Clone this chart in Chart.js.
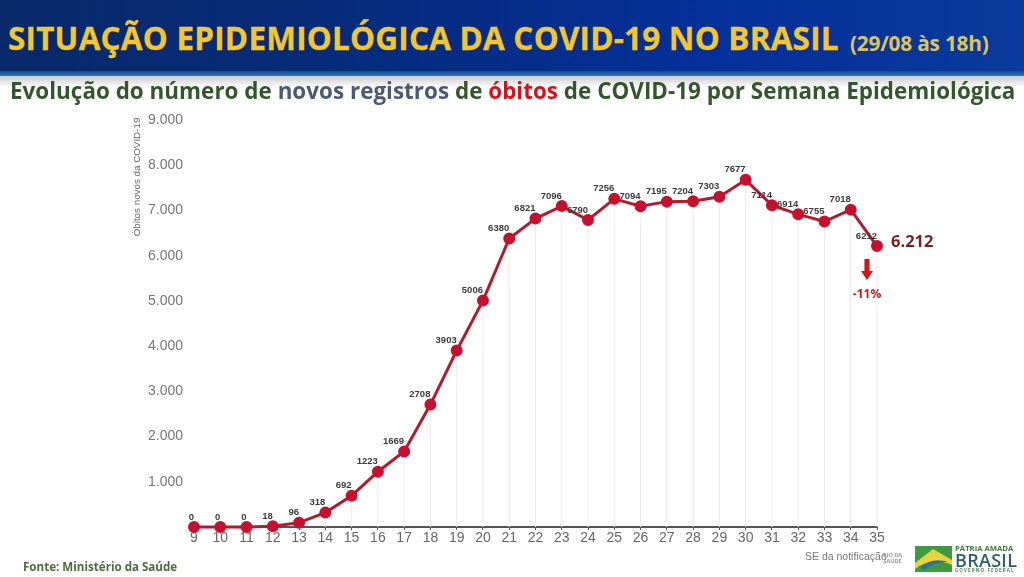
<!DOCTYPE html>
<html>
<head>
<meta charset="utf-8">
<title>Situação epidemiológica da COVID-19 no Brasil</title>
<script src="https://cdn.jsdelivr.net/npm/chart.js@4"></script>
<style>
html, body { margin: 0; padding: 0; background: #fff; }
#page { position: relative; width: 1024px; height: 577px; overflow: hidden; font-family: "Open Sans", sans-serif; }
#myChart { position: absolute; left: 0; top: 0; }
#header { position: absolute; left: 0; top: 0; width: 1024px; height: 72px; background: linear-gradient(90deg, #08296a 0%, #062b78 30%, #04309a 70%, #0a3a9c 100%); }
#strip { position: absolute; left: 0; top: 71px; width: 1024px; height: 5px; background: linear-gradient(180deg, #0f4a96 0%, #3a7ab0 100%); }
#shade { position: absolute; left: 0; top: 76px; width: 1024px; height: 10px; background: linear-gradient(180deg, #c9cbce 0%, #f8f8f8 100%); }
.txt { position: absolute; white-space: nowrap; font-weight: 700; }
#title { left: 8px; top: 19px; font-size: 31.5px; line-height: 38px; color: #f3c62c; letter-spacing: 0.2px; -webkit-text-stroke: 0.3px #f3c62c; }
#date { left: 850px; top: 31px; font-size: 20.8px; line-height: 24px; color: #dcc35e; letter-spacing: -0.2px; }
#subtitle { left: 10px; top: 75px; font-size: 22.4px; line-height: 32px; color: #33562c; letter-spacing: 0.03px; }
#subtitle .n { color: #4a5a72; }
#subtitle .o { color: #d3141c; }
#fonte { left: 23px; top: 559px; font-size: 11.6px; line-height: 16px; color: #4d6b3d; }
#se { left: 805px; top: 549px; font-size: 10.5px; line-height: 14px; color: #777; font-weight: 400; font-family: "Liberation Sans", sans-serif; }
#saude { left: 883px; top: 552px; font-size: 5.5px; line-height: 6px; color: #999; text-align: center; }
#logo { position: absolute; left: 915px; top: 546px; }
#patria { left: 955px; top: 544px; font-size: 7.7px; line-height: 9px; color: #3f7d3a; }
#brasil { left: 955px; top: 549px; font-size: 18px; line-height: 22px; color: #2d5f6b; font-weight: 600; letter-spacing: 0.3px; }
#governo { left: 955px; top: 568px; font-size: 4.5px; line-height: 5px; color: #4d8a4a; letter-spacing: 1.1px; }
#arrow { position: absolute; left: 861px; top: 259px; }
</style>
</head>
<body>
<div id="page">
  <canvas id="myChart" width="1024" height="577"></canvas>
  <div id="header"></div>
  <div id="strip"></div>
  <div id="shade"></div>
  <div class="txt" id="title">SITUAÇÃO EPIDEMIOLÓGICA DA COVID-19 NO BRASIL</div>
  <div class="txt" id="date">(29/08 às 18h)</div>
  <div class="txt" id="subtitle">Evolução do número de <span class="n">novos registros</span> de <span class="o">óbitos</span> de COVID-19 por Semana Epidemiológica</div>
  <div class="txt" id="fonte">Fonte: Ministério da Saúde</div>
  <div class="txt" id="se">SE da notificação</div>
  <div class="txt" id="saude">RIO DA<br>SAÚDE</div>
  <svg id="logo" width="37" height="26" viewBox="0 0 37 26">
    <rect width="37" height="26" fill="#3f9a3f"/>
    <path d="M0 17 L18 3 L37 14 L37 19 Q18 10 0 23 Z" fill="#e8d33c"/>
    <path d="M5 21 Q18 11 33 16 Q20 15 9 24 Z" fill="#2b6fa8"/>
  </svg>
  <div class="txt" id="patria">PÁTRIA AMADA</div>
  <div class="txt" id="brasil">BRASIL</div>
  <div class="txt" id="governo">GOVERNO FEDERAL</div>
  <svg id="arrow" width="12" height="22" viewBox="0 0 14 22" preserveAspectRatio="none">
    <path d="M4 0 H10 V12 H14 L7 21 L0 12 H4 Z" fill="#d3141c"/>
  </svg>
</div>
<script>
// semanas epidemiologicas
const weeks = ["9","10","11","12","13","14","15","16","17","18","19","20","21","22","23","24","25","26","27","28","29","30","31","32","33","34","35"];
const deaths = [0,0,0,18,96,318,692,1223,1669,2708,3903,5006,6380,6821,7096,6790,7256,7094,7195,7204,7303,7677,7114,6914,6755,7018,6212];
const yTicks = [1000,2000,3000,4000,5000,6000,7000,8000,9000];
const yTitle = "Óbitos novos da COVID-19";
const lastLabel = "6.212";
const changeLabel = "-11%";

const dropLines = {
    id: 'dropLines',
    beforeDatasetsDraw(chart) {
        const meta = chart.getDatasetMeta(0), bottom = chart.scales.y.bottom, ctx = chart.ctx;
        ctx.save();
        ctx.strokeStyle = '#ececec';
        ctx.lineWidth = 1;
        meta.data.forEach(p => {
            ctx.beginPath();
            ctx.moveTo(p.x, p.y);
            ctx.lineTo(p.x, bottom);
            ctx.stroke();
        });
        ctx.restore();
    }
};

const pointLabels = {
    id: 'pointLabels',
    afterDatasetsDraw(chart) {
        const meta = chart.getDatasetMeta(0), ctx = chart.ctx;
        ctx.save();
        ctx.textAlign = 'right';
        ctx.textBaseline = 'middle';
        ctx.fillStyle = '#3c3c3c';
        ctx.font = 'bold 9.5px "Liberation Sans"';
        meta.data.forEach((p, i) => {
            ctx.fillText(String(deaths[i]), p.x, p.y - 10);
        });
        const last = meta.data[meta.data.length - 1];
        ctx.textAlign = 'left';
        ctx.fillStyle = '#7f1d1d';
        ctx.font = 'bold 16.5px "Open Sans"';
        ctx.fillText(lastLabel, last.x + 14, last.y - 4);
        ctx.textAlign = 'center';
        ctx.fillStyle = '#d3141c';
        ctx.font = 'bold 12px "Open Sans"';
        ctx.fillText(changeLabel, last.x - 10, last.y + 48);
        ctx.restore();
    }
};

const chart = new Chart(document.getElementById('myChart').getContext('2d'), {
    type: 'line',
    data: {
        labels: weeks,
        datasets: [{
            data: deaths,
            borderColor: '#b01c2c',
            backgroundColor: '#c8102e',
            borderWidth: 3,
            pointRadius: 4.5,
            pointHoverRadius: 4.5,
            pointBackgroundColor: '#c8102e',
            pointBorderColor: '#c8102e',
            tension: 0,
            clip: false
        }]
    },
    options: {
        responsive: false,
        animation: false,
        layout: { padding: { left: 130, top: 120, right: 147, bottom: 26 } },
        plugins: {
            legend: { display: false },
            tooltip: { enabled: false }
        },
        scales: {
            x: {
                offset: false,
                afterFit(axis) { axis.height = 24; },
                grid: { display: true, drawOnChartArea: false, drawTicks: true, tickLength: 3, color: '#555' },
                border: { display: true, color: '#555', width: 2 },
                ticks: { color: '#666', font: { family: 'Liberation Sans', size: 14 }, padding: 0, maxRotation: 0, autoSkip: false }
            },
            y: {
                min: 0,
                max: 9000,
                afterFit(axis) { axis.width = 64; },
                afterBuildTicks(axis) { axis.ticks = yTicks.map(v => ({ value: v })); },
                grid: { display: false },
                border: { display: false },
                ticks: {
                    color: '#777',
                    font: { family: 'Liberation Sans', size: 14 },
                    padding: 3,
                    callback: v => v.toLocaleString('pt-BR')
                }
            }
        }
    },
    plugins: [dropLines, pointLabels, {
        id: 'yTitle',
        afterDraw(c) {
            const ctx = c.ctx;
            ctx.save();
            ctx.translate(137, 177);
            ctx.rotate(-Math.PI / 2);
            ctx.textAlign = 'center';
            ctx.textBaseline = 'middle';
            ctx.fillStyle = '#666';
            ctx.font = '9.8px "Liberation Sans"';
            ctx.fillText(yTitle, 0, 0);
            ctx.restore();
        }
    }]
});
</script>
</body>
</html>
